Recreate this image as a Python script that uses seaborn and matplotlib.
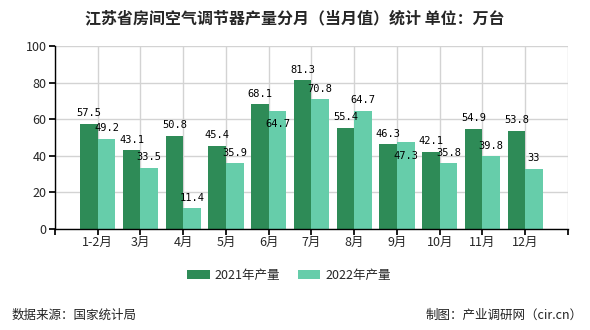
import matplotlib
matplotlib.use("Agg")
import matplotlib.pyplot as plt
import seaborn as sns
import pandas as pd
from matplotlib.patches import Patch

categories = ["1-2月", "3月", "4月", "5月", "6月", "7月", "8月", "9月", "10月", "11月", "12月"]
series_names = ["2021年产量", "2022年产量"]
values_2021 = [57.5, 43.1, 50.8, 45.4, 68.1, 81.3, 55.4, 46.3, 42.1, 54.9, 53.8]
values_2022 = [49.2, 33.5, 11.4, 35.9, 64.7, 70.8, 64.7, 47.3, 35.8, 39.8, 33]
value_labels_2022 = ["49.2", "33.5", "11.4", "35.9", "64.7", "70.8", "64.7", "47.3", "35.8", "39.8", "33"]
y_ticks = [0, 20, 40, 60, 80, 100]
title = "江苏省房间空气调节器产量分月（当月值）统计 单位：万台"
source_text = "数据来源：国家统计局"
credit_text = "制图：产业调研网（cir.cn）"
colors = ["#2E8B57", "#66CDAA"]

sns.set_theme(style="white")
plt.rcParams["font.family"] = ["Noto Sans CJK SC", "DejaVu Sans"]

df = pd.DataFrame({
    "month": categories * 2,
    "series": [series_names[0]] * len(categories) + [series_names[1]] * len(categories),
    "value": values_2021 + values_2022,
})

fig = plt.figure(figsize=(5.9, 3.3), dpi=100)
ax = fig.add_axes([0.0932, 0.306, 0.8695, 0.5546])
sns.barplot(data=df, x="month", y="value", hue="series", order=categories,
            hue_order=series_names, palette=colors, width=0.82, gap=0,
            saturation=1, ax=ax, legend=False, errorbar=None, linewidth=0)

ax.set_xlim(-1, len(categories))
ax.set_ylim(0, 100)
ax.set_yticks(y_ticks)
ax.set_xlabel("")
ax.set_ylabel("")
ax.set_axisbelow(True)
ax.grid(True, color="#d3d3d3", linewidth=1)
ax.set_xticks([-1] + list(range(len(categories))) + [len(categories)])
ax.set_xticklabels([""] + categories + [""], fontsize=9)
ax.tick_params(axis="y", labelsize=9, length=4, direction="out", left=True, color="black", pad=2)
ax.tick_params(axis="x", length=4, direction="out", bottom=True, color="black", pad=1)
for s in ["top", "right"]:
    ax.spines[s].set_visible(False)
for s in ["left", "bottom"]:
    ax.spines[s].set_color("black")
    ax.spines[s].set_linewidth(1)

# label placement: most labels sit above the bar; two 2022 labels are tucked into the bar top
inside = {(1, 4), (1, 7)}
labels_list = [[f"{v}" for v in values_2021], value_labels_2022]
for si, (container, labs) in enumerate(zip(ax.containers, labels_list)):
    for ci, (bar, lab) in enumerate(zip(container, labs)):
        dy = -13 if (si, ci) in inside else 4
        ax.annotate(lab, (bar.get_x() + bar.get_width() / 2, bar.get_height()),
                    xytext=(0, dy), textcoords="offset points", ha="center", va="bottom",
                    fontsize=7.5, family="DejaVu Sans Mono", color="black")

handles = [Patch(facecolor=c, edgecolor="none") for c in colors]
fig.legend(handles, series_names, loc="center", bbox_to_anchor=(0.49, 0.165), ncol=2,
           frameon=False, fontsize=9, handlelength=1.8, handleheight=0.8,
           handletextpad=0.4, columnspacing=1.4)

fig.text(0.5, 0.945, title, ha="center", va="center", fontsize=11.5, weight="bold")
fig.text(0.02, 0.045, source_text, ha="left", va="center", fontsize=9, color="#222222")
fig.text(0.987, 0.045, credit_text, ha="right", va="center", fontsize=9, color="#222222")

fig.savefig("out.png", dpi=100)
